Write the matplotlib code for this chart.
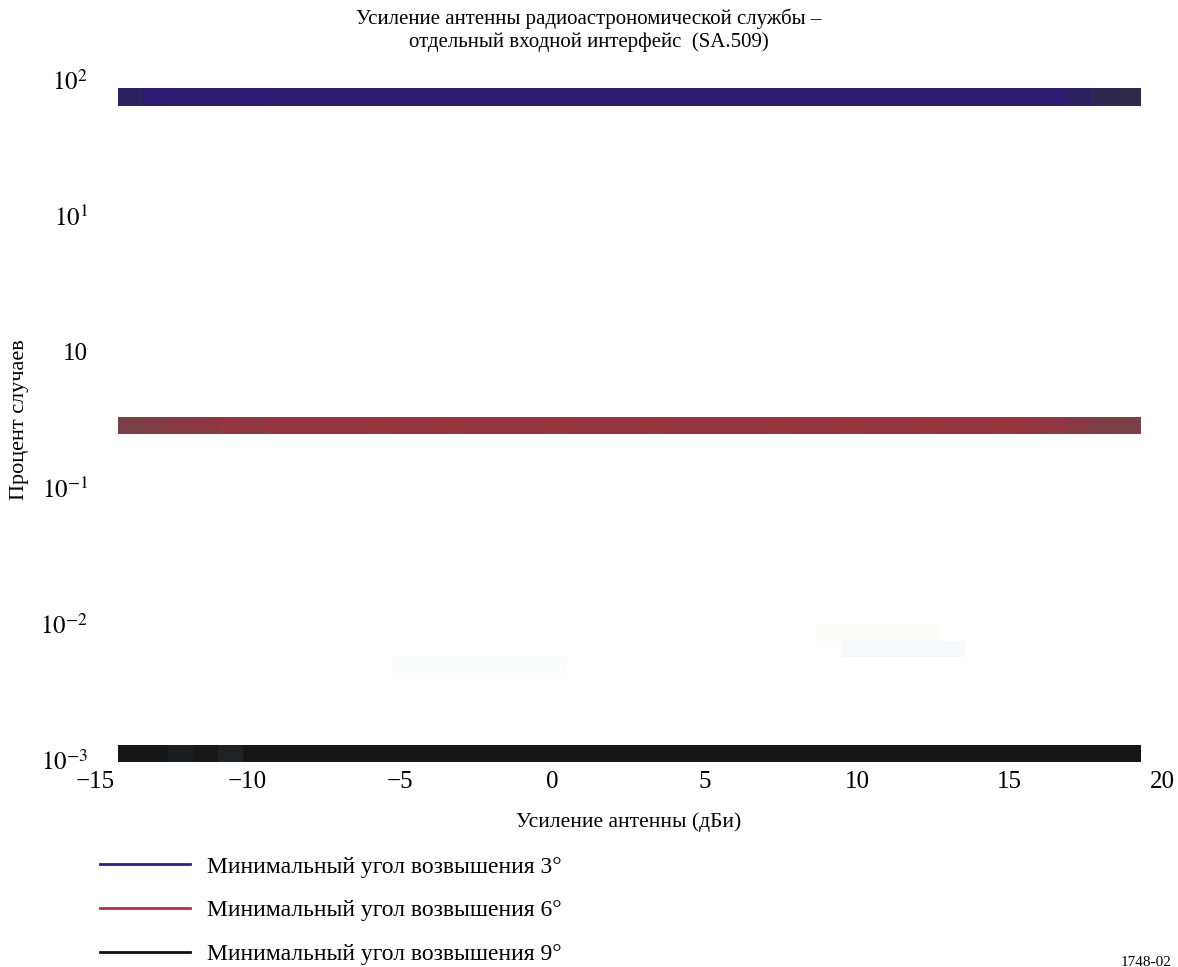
import numpy as np
import matplotlib
matplotlib.use('Agg')
import matplotlib.pyplot as plt
from matplotlib.colors import LinearSegmentedColormap
from matplotlib.lines import Line2D

plt.rcParams['font.family'] = ['Liberation Serif', 'DejaVu Serif']
plt.rcParams['mathtext.fontset'] = 'stix'

# данные
x_edges = np.linspace(-14.25, 19.3, 42)   # 41 ячейка по оси усиления
band3_y = (64.4, 87.3)        # 3 градуса
band6_y = (0.249, 0.333)      # 6 градусов
band9_y = (0.00097, 0.00129)  # 9 градусов

# оттенок каждой ячейки, 0 = основной цвет, 1 = серый
band3_vals = [0.45, 0.0, 0.05, 0.05, 0.05, 0.0, 0.05, 0.05, 0.05, 0.05,
              0.05, 0.05, 0.05, 0.05, 0.05, 0.05, 0.05, 0.05, 0.05, 0.05,
              0.05, 0.05, 0.05, 0.05, 0.05, 0.05, 0.05, 0.05, 0.05, 0.05,
              0.05, 0.05, 0.05, 0.05, 0.05, 0.05, 0.05, 0.05, 0.4, 0.8, 1.0]
band6_vals = [1.0, 0.75, 0.6, 0.45, 0.1, 0.3, 0.1, 0.1, 0.1, 0.1,
              0.05, 0.1, 0.1, 0.05, 0.1, 0.1, 0.1, 0.05, 0.1, 0.1,
              0.1, 0.05, 0.1, 0.1, 0.1, 0.1, 0.05, 0.1, 0.1, 0.05,
              0.1, 0.1, 0.05, 0.1, 0.1, 0.05, 0.1, 0.2, 0.6, 0.9, 1.0]
band9_vals = [0.05, 0.05, 0.4, 0.1, 0.6, 0.05, 0.05, 0.05, 0.05, 0.05,
              0.05, 0.05, 0.05, 0.05, 0.05, 0.05, 0.05, 0.05, 0.05, 0.05,
              0.05, 0.05, 0.05, 0.05, 0.05, 0.05, 0.05, 0.05, 0.05, 0.05,
              0.05, 0.05, 0.05, 0.05, 0.05, 0.05, 0.05, 0.05, 0.05, 0.05, 0.05]

# почти невидимые ячейки около 10^-2
faint_rows_y = [(0.0075, 0.00984), (0.00571, 0.0075), (0.00437, 0.00571)]
faint_rows_cells = [(28, 33), (29, 34), (11, 18)]
faint_colors = ['#fcfbf8', '#f5f9fb', '#fafdfb']

y_ticks = [1e-3, 1e-2, 1e-1, 1e0, 1e1, 1e2]
y_ticklabels = [r'$10^{-3}$', r'$10^{-2}$', r'$10^{-1}$', '10', r'$10^{1}$', r'$10^{2}$']
x_ticks = [-15, -10, -5, 0, 5, 10, 15, 20]

legend_labels = ['Минимальный угол возвышения 3°',
                 'Минимальный угол возвышения 6°',
                 'Минимальный угол возвышения 9°']
line_colors = ['#2e1f7a', '#ad3444', '#111111']

cmap3 = LinearSegmentedColormap.from_list('b3', ['#2d1a71', '#2e2a4a'])
cmap6 = LinearSegmentedColormap.from_list('b6', ['#98343f', '#7a4048'])
cmap9 = LinearSegmentedColormap.from_list('b9', ['#131517', '#262b2e'])

fig = plt.figure(figsize=(11.78, 9.67), dpi=100)
ax = fig.add_axes([95/1178, 1-760/967, (1162-95)/1178, (760-80)/967])
ax.set_yscale('log')

for yb, vals, cm in [(band3_y, band3_vals, cmap3),
                     (band6_y, band6_vals, cmap6),
                     (band9_y, band9_vals, cmap9)]:
    m = ax.pcolormesh(x_edges, np.array(yb), np.array(vals)[np.newaxis, :],
                      cmap=cm, vmin=0, vmax=1, shading='flat')
    m.set_clip_on(False)

for yb, (c0, c1), col in zip(faint_rows_y, faint_rows_cells, faint_colors):
    ax.fill_between(x_edges[c0:c1+1], yb[0], yb[1], color=col, lw=0)

ax.set_xlim(-15, 20)
ax.set_ylim(1e-3, 1e2)
ax.set_xticks(x_ticks)
ax.set_xticklabels([str(v).replace('-', '\u2212') for v in x_ticks])
ax.set_yticks(y_ticks)
ax.set_yticklabels(y_ticklabels)
ax.minorticks_off()
ax.tick_params(which='both', length=0, labelsize=18)
ax.tick_params(axis='x', pad=8)
ax.tick_params(axis='y', pad=5)
for s in ax.spines.values():
    s.set_visible(False)

ax.set_xlabel('Усиление антенны (дБи)', fontsize=15.5, labelpad=14)
ax.set_ylabel('Процент случаев', fontsize=16, labelpad=8)
fig.text(0.5, 1-30/967, 'Усиление антенны радиоастрономической службы –\n'
         'отдельный входной интерфейс  (SA.509)',
         ha='center', va='center', fontsize=15, linespacing=1.25)

handles = [Line2D([], [], color=c, lw=2) for c in line_colors]
fig.legend(handles, legend_labels, loc='upper left',
           bbox_to_anchor=(100/1178, 1-856/967), frameon=False,
           fontsize=17, handlelength=3.8, handletextpad=0.72,
           labelspacing=0.95, borderpad=0, borderaxespad=0)

fig.text(1172/1178, 1-962/967, '1748-02', ha='right', va='center', fontsize=11)

fig.savefig('out.png', dpi=100)
